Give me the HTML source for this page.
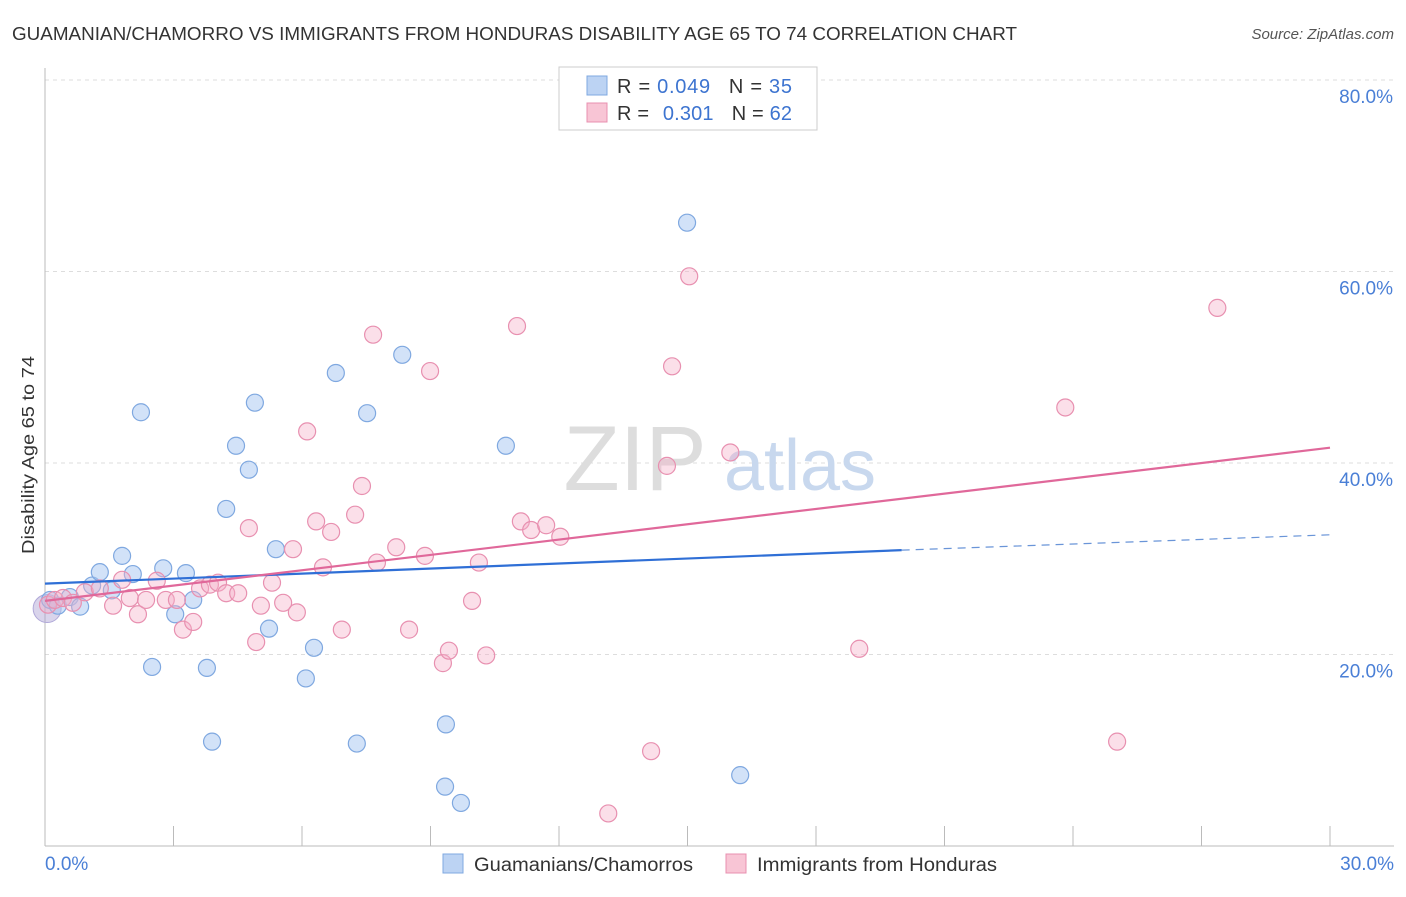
<!DOCTYPE html>
<html><head><meta charset="utf-8"><style>
body{margin:0;background:#fff;font-family:"Liberation Sans",sans-serif;}
svg text{font-family:"Liberation Sans",sans-serif;}
</style></head><body>
<svg id="chart" width="1406" height="892" xmlns="http://www.w3.org/2000/svg">
<text x="12" y="40" font-size="18" fill="#333" textLength="1005" lengthAdjust="spacingAndGlyphs">GUAMANIAN/CHAMORRO VS IMMIGRANTS FROM HONDURAS DISABILITY AGE 65 TO 74 CORRELATION CHART</text>
<text x="1394" y="39" font-size="15" fill="#555" font-style="italic" text-anchor="end">Source: ZipAtlas.com</text>
<g id="grid"></g>
<g>
<text x="635" y="490" font-size="92" fill="#ddd" font-family="Liberation Serif" text-anchor="middle">ZIP</text>
<text x="800" y="490" font-size="72" fill="#c8d8ee" text-anchor="middle">atlas</text>
</g>
<g id="axes"></g>
<g id="pts"></g>
<g id="lines"></g>
<text transform="translate(34,455) rotate(-90)" font-size="17.5" fill="#333" text-anchor="middle" textLength="198" lengthAdjust="spacingAndGlyphs">Disability Age 65 to 74</text>
<text x="45" y="870" font-size="19" fill="#4a7fd6">0.0%</text>
<text x="1394" y="870" font-size="19" fill="#4a7fd6" text-anchor="end">30.0%</text>
<g>
<rect x="559" y="67" width="258" height="63" fill="#fff" stroke="#ccc"/>
<rect x="587" y="76" width="20" height="19" fill="#bcd3f3" stroke="#7fa8e0"/>
<rect x="587" y="103" width="20" height="19" fill="#f8c5d5" stroke="#e890b0"/>
<text x="617" y="93" font-size="20" fill="#333" textLength="175" lengthAdjust="spacing">R = <tspan fill="#3d74d0">0.049</tspan><tspan dx="18">N = </tspan><tspan fill="#3d74d0">35</tspan></text>
<text x="617" y="120" font-size="20" fill="#333" textLength="175" lengthAdjust="spacing">R = <tspan dx="8" fill="#3d74d0">0.301</tspan><tspan dx="18">N = </tspan><tspan fill="#3d74d0">62</tspan></text>
</g>
<g>
<rect x="443" y="854" width="20" height="19" fill="#bcd3f3" stroke="#7fa8e0"/>
<text x="474" y="871" font-size="19" fill="#333" textLength="219" lengthAdjust="spacingAndGlyphs">Guamanians/Chamorros</text>
<rect x="726" y="854" width="20" height="19" fill="#f8c5d5" stroke="#e890b0"/>
<text x="757" y="871" font-size="19" fill="#333" textLength="240" lengthAdjust="spacingAndGlyphs">Immigrants from Honduras</text>
</g>
</svg>
<script>
const yTicks=[20,40,60,80];
const yTickLabels=["20.0%","40.0%","60.0%","80.0%"];
const blueX=[0.12,0.30,0.58,0.82,1.10,1.28,1.56,1.80,2.05,2.24,2.50,2.76,3.04,3.29,3.46,3.78,3.90,4.23,4.46,4.76,4.90,5.23,5.39,6.09,6.28,6.79,7.28,7.52,8.34,9.36,9.34,9.71,10.76,14.99,16.23];
const blueY=[25.7,25.1,26.0,25.0,27.2,28.6,26.7,30.3,28.4,45.3,18.7,29.0,24.2,28.5,25.7,18.6,10.9,35.2,41.8,39.3,46.3,22.7,31.0,17.5,20.7,49.4,10.7,45.2,51.3,12.7,6.2,4.5,41.8,65.1,7.4];
const pinkX=[0.07,0.23,0.42,0.65,0.93,1.28,1.59,1.80,1.98,2.17,2.36,2.61,2.82,3.08,3.22,3.46,3.62,3.85,4.04,4.23,4.51,4.76,4.93,5.04,5.30,5.56,5.79,5.88,6.12,6.33,6.49,6.68,6.93,7.24,7.40,7.66,7.75,8.20,8.50,8.87,8.99,9.29,9.43,9.97,10.13,10.30,11.02,11.11,11.35,11.70,12.03,13.15,14.15,14.52,14.64,15.04,16.00,19.01,23.82,25.03,27.37];
const pinkY=[25.2,25.7,25.9,25.4,26.5,26.9,25.1,27.8,25.9,24.2,25.7,27.7,25.7,25.7,22.6,23.4,26.9,27.3,27.5,26.4,26.4,33.2,21.3,25.1,27.5,25.4,31.0,24.4,43.3,33.9,29.1,32.8,22.6,34.6,37.6,53.4,29.6,31.2,22.6,30.3,49.6,19.1,20.4,25.6,29.6,19.9,54.3,33.9,33.0,33.5,32.3,3.4,9.9,39.7,50.1,59.5,41.1,20.6,45.8,10.9,56.2];
const blueLine=[0,27.4,20,30.9,30,32.5];
const pinkLine=[0,25.6,30,41.6];
const NS="http://www.w3.org/2000/svg";
const xs=v=>45+v/30*1285, ys=v=>846-v/80*766;
function mk(p,t,a){const e=document.createElementNS(NS,t);for(const k in a)e.setAttribute(k,a[k]);p.appendChild(e);return e;}
const grid=document.getElementById('grid'),axes=document.getElementById('axes'),pts=document.getElementById('pts'),lines=document.getElementById('lines');
yTicks.forEach((t,i)=>{
 const l=mk(grid,'line',{x1:45,x2:1394,y1:ys(t),y2:ys(t),stroke:'#ddd','stroke-dasharray':'4,4'});
 
 
 const tx=mk(axes,'text',{x:1393,y:ys(t)+23,'font-size':19,fill:'#4a7fd6','text-anchor':'end'});
 tx.textContent=yTickLabels[i];
 
 
});
mk(axes,'line',{x1:45,x2:45,y1:68,y2:846,stroke:'#bbb'});
mk(axes,'line',{x1:45,x2:1394,y1:846,y2:846,stroke:'#bbb'});
for(let i=0;i<=10;i++){const t=mk(axes,'line',{x1:xs(i*3),x2:xs(i*3),y1:826,y2:846,stroke:'#bbb'});
 
 }
const big=mk(pts,'circle',{cx:xs(0.05),cy:ys(24.8),r:14,fill:'rgba(170,160,210,0.45)',stroke:'#b0a8d8'});


blueX.forEach((x,i)=>{const c=mk(pts,'circle',{cx:xs(x),cy:ys(blueY[i]),r:8.5,fill:'rgba(165,198,242,0.5)',stroke:'#7fa8e0','stroke-width':1.2});
 
 });
pinkX.forEach((x,i)=>{const c=mk(pts,'circle',{cx:xs(x),cy:ys(pinkY[i]),r:8.5,fill:'rgba(246,175,200,0.4)',stroke:'#e890b0','stroke-width':1.2});
 
 });
const b1=mk(lines,'line',{x1:xs(blueLine[0]),y1:ys(blueLine[1]),x2:xs(blueLine[2]),y2:ys(blueLine[3]),stroke:'#2f6fd6','stroke-width':2.2});


const b2=mk(lines,'line',{x1:xs(blueLine[2]),y1:ys(blueLine[3]),x2:xs(blueLine[4]),y2:ys(blueLine[5]),stroke:'#6a95d8','stroke-width':1.2,'stroke-dasharray':'8,6'});


const p1=mk(lines,'line',{x1:xs(pinkLine[0]),y1:ys(pinkLine[1]),x2:xs(pinkLine[2]),y2:ys(pinkLine[3]),stroke:'#e0689a','stroke-width':2.2});


</script>
</body></html>
